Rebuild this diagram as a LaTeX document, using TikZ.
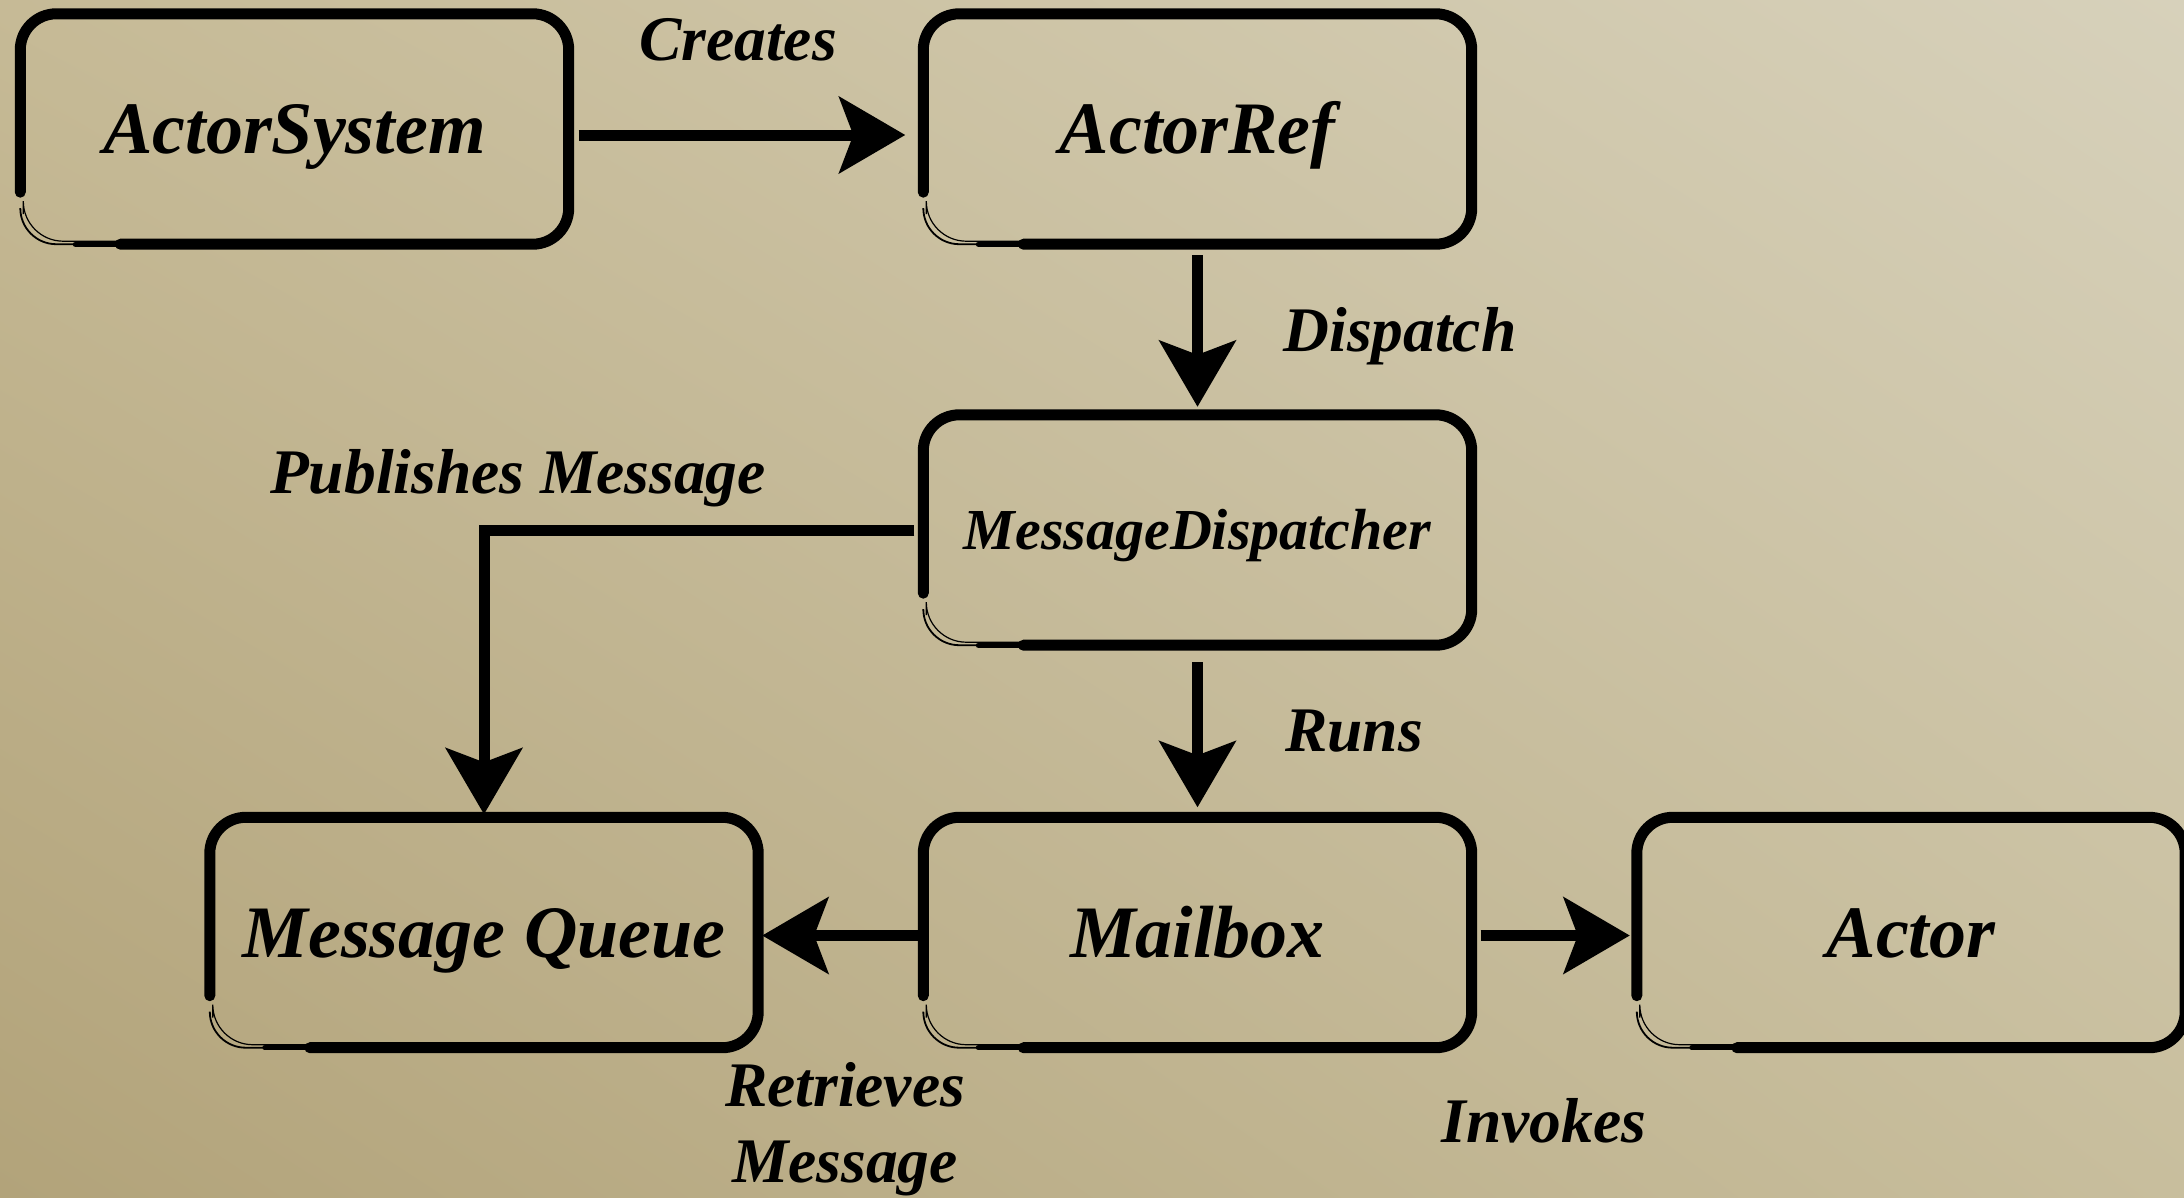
\documentclass[tikz,border=0pt]{standalone}
\usepackage{fontspec}
\setmainfont{Liberation Serif}
\usetikzlibrary{arrows.meta,calc,shadings}
\definecolor{bgA}{HTML}{B2A37A}
\definecolor{bgB}{HTML}{C6BA96}
\definecolor{bgC}{HTML}{C8BE9D}
\definecolor{bgD}{HTML}{D7D1BB}
\begin{document}
\begin{tikzpicture}[x=1pt,y=-1pt,
  box/.style={rectangle, minimum width=548pt, minimum height=230pt, inner sep=0pt,
    font=\fontsize{74}{80}\selectfont\bfseries\itshape, text height=49pt, text depth=0pt},
  smallbox/.style={box, font=\fontsize{58}{64}\selectfont\bfseries\itshape, text height=38pt},
  lbl/.style={font=\fontsize{63.5}{76}\selectfont\bfseries\itshape, inner sep=0pt, anchor=base},
  brush/.style={line width=11pt, rounded corners=36pt, line cap=round},
  conn/.style={line width=11pt, -{Stealth[length=66pt,width=76pt,inset=14pt]}},
]
\useasboundingbox (0,0) rectangle (2184,1197);
\shade[lower left=bgA, upper left=bgB, lower right=bgC, upper right=bgD] (0,0) rectangle (2184,1197);

\node[box] (asys) at (294.5,129) {ActorSystem};
\node[box] (aref) at (1197.5,129) {ActorRef};
\node[smallbox] (mdisp) at (1197.5,530) {MessageDispatcher};
\node[box] (mq) at (484,932.5) {Message Queue};
\node[box] (mbox) at (1197.5,932.5) {Mailbox};
\node[box] (actor) at (1911,932.5) {Actor};

\foreach \n in {asys,aref,mdisp,mq,mbox,actor}{
  \draw[brush] ($(\n.south west)+(0,-52)$) -- (\n.north west) -- (\n.north east) -- (\n.south east) -- ($(\n.south west)+(100,0)$);
  \draw[line width=5pt, line cap=round] ($(\n.south west)+(55,0)$) -- ($(\n.south west)+(140,0)$);
  \draw[line width=1.8pt, rounded corners=36pt] ($(\n.south west)+(0,-34)$) -- (\n.south west) -- ($(\n.south west)+(150,0)$);
  \draw[line width=1.2pt, rounded corners=40pt] ($(\n.south west)+(3,-30)$) -- ($(\n.south west)+(3,-3)$) -- ($(\n.south west)+(150,-3)$);
}

\draw[conn, shorten <=10pt, shorten >=18pt] ([yshift=-6pt]asys.east) -- ([yshift=-6pt]aref.west);
\draw[conn, shorten <=11pt, shorten >=8pt] (aref.south) -- (mdisp.north);
\draw[conn, shorten <=17pt, shorten >=10pt] (mdisp.south) -- (mbox.north);
\draw[conn, shorten <=9pt, shorten >=3pt] (mdisp.west) -| (mq.north);
\draw[conn, shorten <=4pt, shorten >=4pt] ([yshift=-3pt]mbox.west) -- ([yshift=-3pt]mq.east);
\draw[conn, shorten <=9pt, shorten >=7pt] ([yshift=-3pt]mbox.east) -- ([yshift=-3pt]actor.west);

\node[lbl] (lcreates) at (738,60) {Creates};
\node[lbl] (ldispatch) at (1400,351) {Dispatch};
\node[lbl] (lpublish) at (518,493) {Publishes Message};
\node[lbl] (lruns) at (1354,751) {Runs};
\node[lbl, anchor=north, align=center] (lretr) at (845,1062) {Retrieves\\Message};
\node[lbl] (linvokes) at (1544,1142) {Invokes};
\end{tikzpicture}
\end{document}
